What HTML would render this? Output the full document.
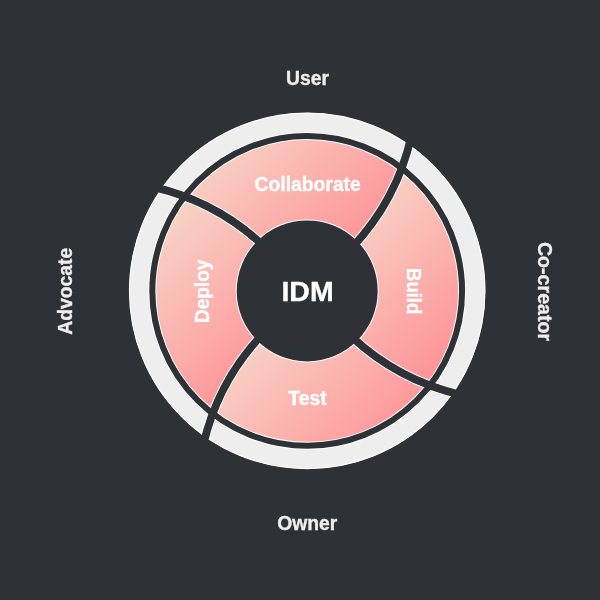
<!DOCTYPE html>
<html><head><meta charset="utf-8"><style>
html,body{margin:0;padding:0;background:#2e3236;}
svg{display:block;will-change:transform}
text{font-family:"Liberation Sans",sans-serif;font-weight:bold;}
</style></head><body>
<svg width="600" height="600" viewBox="0 0 600 600">
<defs><linearGradient id="g0" gradientUnits="userSpaceOnUse" x1="187.42" y1="139.05" x2="345.21" y2="296.84"><stop offset="0" stop-color="#f7dbcc"/><stop offset="1" stop-color="#ff8b91"/></linearGradient><linearGradient id="g1" gradientUnits="userSpaceOnUse" x1="356.58" y1="171.12" x2="514.37" y2="328.91"><stop offset="0" stop-color="#f7dbcc"/><stop offset="1" stop-color="#ff8b91"/></linearGradient><linearGradient id="g2" gradientUnits="userSpaceOnUse" x1="213.87" y1="340.28" x2="371.66" y2="498.07"><stop offset="0" stop-color="#f7dbcc"/><stop offset="1" stop-color="#ff8b91"/></linearGradient><linearGradient id="g3" gradientUnits="userSpaceOnUse" x1="155.35" y1="197.57" x2="313.14" y2="355.36"><stop offset="0" stop-color="#f7dbcc"/><stop offset="1" stop-color="#ff8b91"/></linearGradient></defs>
<rect width="600" height="600" fill="#2e3236"/>
<circle cx="307.2" cy="290.9" r="168.10" fill="none" stroke="#eeeeee" stroke-width="20.40"/>
<path d="M260.06,242.58 L258.45,241.14 L256.82,239.71 L255.17,238.29 L253.52,236.89 L251.85,235.50 L250.16,234.13 L248.46,232.77 L246.75,231.42 L245.03,230.09 L243.29,228.78 L241.54,227.48 L239.77,226.19 L237.99,224.92 L236.20,223.67 L234.40,222.43 L232.58,221.20 L230.75,219.99 L228.91,218.80 L227.06,217.62 L225.19,216.46 L223.31,215.32 L221.42,214.19 L219.51,213.07 L217.59,211.98 L215.67,210.90 L213.72,209.83 L211.77,208.78 L209.80,207.75 L207.83,206.74 L205.84,205.74 L203.84,204.77 L201.82,203.80 L199.80,202.86 L197.76,201.93 L195.72,201.03 L193.66,200.14 L191.59,199.26 L189.51,198.41 L187.42,197.57 L187.42,197.57 L189.94,194.42 L192.55,191.33 L195.24,188.31 L198.01,185.37 L200.86,182.50 L203.79,179.71 L206.78,176.99 L209.85,174.36 L212.99,171.81 L216.19,169.34 L219.46,166.97 L222.79,164.67 L226.18,162.47 L229.63,160.36 L233.13,158.34 L236.68,156.42 L240.29,154.59 L243.94,152.85 L247.64,151.22 L251.38,149.68 L255.16,148.25 L258.97,146.91 L262.82,145.68 L266.71,144.55 L270.62,143.52 L274.55,142.60 L278.51,141.78 L282.49,141.07 L286.49,140.47 L290.50,139.97 L294.52,139.58 L298.56,139.30 L302.59,139.12 L306.64,139.05 L310.68,139.09 L314.72,139.24 L318.75,139.49 L322.78,139.85 L326.80,140.32 L330.80,140.89 L334.78,141.58 L338.75,142.36 L342.69,143.26 L346.61,144.25 L350.50,145.35 L354.36,146.56 L358.18,147.86 L361.97,149.27 L365.72,150.78 L369.43,152.39 L373.10,154.09 L376.72,155.90 L380.29,157.80 L383.80,159.79 L387.27,161.87 L390.67,164.05 L394.02,166.32 L397.31,168.67 L400.53,171.12 L400.53,171.12 L399.69,173.21 L398.84,175.29 L397.96,177.36 L397.07,179.42 L396.17,181.46 L395.24,183.50 L394.30,185.52 L393.33,187.54 L392.36,189.54 L391.36,191.53 L390.35,193.50 L389.32,195.47 L388.27,197.42 L387.20,199.37 L386.12,201.29 L385.03,203.21 L383.91,205.12 L382.78,207.01 L381.64,208.89 L380.48,210.76 L379.30,212.61 L378.11,214.45 L376.90,216.28 L375.67,218.10 L374.43,219.90 L373.18,221.69 L371.91,223.47 L370.62,225.24 L369.32,226.99 L368.01,228.73 L366.68,230.45 L365.33,232.16 L363.97,233.86 L362.60,235.55 L361.21,237.22 L359.81,238.87 L358.39,240.52 L356.96,242.15 L355.52,243.76 L355.52,243.76 L354.24,242.49 L352.94,241.26 L351.60,240.06 L350.23,238.90 L348.83,237.77 L347.40,236.68 L345.95,235.63 L344.46,234.62 L342.95,233.64 L341.41,232.71 L339.85,231.82 L338.27,230.97 L336.66,230.17 L335.03,229.41 L333.39,228.69 L331.72,228.01 L330.04,227.38 L328.34,226.80 L326.63,226.26 L324.90,225.76 L323.16,225.31 L321.41,224.91 L319.64,224.56 L317.87,224.25 L316.10,223.99 L314.31,223.78 L312.52,223.61 L310.73,223.49 L308.93,223.42 L307.14,223.40 L305.34,223.43 L303.54,223.50 L301.75,223.62 L299.96,223.79 L298.18,224.01 L296.40,224.27 L294.63,224.58 L292.87,224.94 L291.12,225.34 L289.38,225.80 L287.65,226.29 L285.94,226.84 L284.24,227.42 L282.56,228.06 L280.90,228.74 L279.25,229.46 L277.62,230.22 L276.02,231.03 L274.44,231.88 L272.88,232.78 L271.34,233.71 L269.83,234.69 L268.35,235.70 L266.89,236.76 L265.47,237.85 L264.07,238.98 L262.70,240.14 L261.37,241.35 L260.06,242.58Z" fill="url(#g0)"/><path d="M355.52,243.76 L356.96,242.15 L358.39,240.52 L359.81,238.87 L361.21,237.22 L362.60,235.55 L363.97,233.86 L365.33,232.16 L366.68,230.45 L368.01,228.73 L369.32,226.99 L370.62,225.24 L371.91,223.47 L373.18,221.69 L374.43,219.90 L375.67,218.10 L376.90,216.28 L378.11,214.45 L379.30,212.61 L380.48,210.76 L381.64,208.89 L382.78,207.01 L383.91,205.12 L385.03,203.21 L386.12,201.29 L387.20,199.37 L388.27,197.42 L389.32,195.47 L390.35,193.50 L391.36,191.53 L392.36,189.54 L393.33,187.54 L394.30,185.52 L395.24,183.50 L396.17,181.46 L397.07,179.42 L397.96,177.36 L398.84,175.29 L399.69,173.21 L400.53,171.12 L400.53,171.12 L403.68,173.64 L406.77,176.25 L409.79,178.94 L412.73,181.71 L415.60,184.56 L418.39,187.49 L421.11,190.48 L423.74,193.55 L426.29,196.69 L428.76,199.89 L431.13,203.16 L433.43,206.49 L435.63,209.88 L437.74,213.33 L439.76,216.83 L441.68,220.38 L443.51,223.99 L445.25,227.64 L446.88,231.34 L448.42,235.08 L449.85,238.86 L451.19,242.67 L452.42,246.52 L453.55,250.41 L454.58,254.32 L455.50,258.25 L456.32,262.21 L457.03,266.19 L457.63,270.19 L458.13,274.20 L458.52,278.22 L458.80,282.26 L458.98,286.29 L459.05,290.34 L459.01,294.38 L458.86,298.42 L458.61,302.45 L458.25,306.48 L457.78,310.50 L457.21,314.50 L456.52,318.48 L455.74,322.45 L454.84,326.39 L453.85,330.31 L452.75,334.20 L451.54,338.06 L450.24,341.88 L448.83,345.67 L447.32,349.42 L445.71,353.13 L444.01,356.80 L442.20,360.42 L440.30,363.99 L438.31,367.50 L436.23,370.97 L434.05,374.37 L431.78,377.72 L429.43,381.01 L426.98,384.23 L426.98,384.23 L424.89,383.39 L422.81,382.54 L420.74,381.66 L418.68,380.77 L416.64,379.87 L414.60,378.94 L412.58,378.00 L410.56,377.03 L408.56,376.06 L406.57,375.06 L404.60,374.05 L402.63,373.02 L400.68,371.97 L398.73,370.90 L396.81,369.82 L394.89,368.73 L392.98,367.61 L391.09,366.48 L389.21,365.34 L387.34,364.18 L385.49,363.00 L383.65,361.81 L381.82,360.60 L380.00,359.37 L378.20,358.13 L376.41,356.88 L374.63,355.61 L372.86,354.32 L371.11,353.02 L369.37,351.71 L367.65,350.38 L365.94,349.03 L364.24,347.67 L362.55,346.30 L360.88,344.91 L359.23,343.51 L357.58,342.09 L355.95,340.66 L354.34,339.22 L354.34,339.22 L355.61,337.94 L356.84,336.64 L358.04,335.30 L359.20,333.93 L360.33,332.53 L361.42,331.10 L362.47,329.65 L363.48,328.16 L364.46,326.65 L365.39,325.11 L366.28,323.55 L367.13,321.97 L367.93,320.36 L368.69,318.73 L369.41,317.09 L370.09,315.42 L370.72,313.74 L371.30,312.04 L371.84,310.33 L372.34,308.60 L372.79,306.86 L373.19,305.11 L373.54,303.34 L373.85,301.57 L374.11,299.80 L374.32,298.01 L374.49,296.22 L374.61,294.43 L374.68,292.63 L374.70,290.84 L374.67,289.04 L374.60,287.24 L374.48,285.45 L374.31,283.66 L374.09,281.88 L373.83,280.10 L373.52,278.33 L373.16,276.57 L372.76,274.82 L372.30,273.08 L371.81,271.35 L371.26,269.64 L370.68,267.94 L370.04,266.26 L369.36,264.60 L368.64,262.95 L367.88,261.32 L367.07,259.72 L366.22,258.14 L365.32,256.58 L364.39,255.04 L363.41,253.53 L362.40,252.05 L361.34,250.59 L360.25,249.17 L359.12,247.77 L357.96,246.40 L356.75,245.07 L355.52,243.76Z" fill="url(#g1)"/><path d="M354.34,339.22 L355.95,340.66 L357.58,342.09 L359.23,343.51 L360.88,344.91 L362.55,346.30 L364.24,347.67 L365.94,349.03 L367.65,350.38 L369.37,351.71 L371.11,353.02 L372.86,354.32 L374.63,355.61 L376.41,356.88 L378.20,358.13 L380.00,359.37 L381.82,360.60 L383.65,361.81 L385.49,363.00 L387.34,364.18 L389.21,365.34 L391.09,366.48 L392.98,367.61 L394.89,368.73 L396.81,369.82 L398.73,370.90 L400.68,371.97 L402.63,373.02 L404.60,374.05 L406.57,375.06 L408.56,376.06 L410.56,377.03 L412.58,378.00 L414.60,378.94 L416.64,379.87 L418.68,380.77 L420.74,381.66 L422.81,382.54 L424.89,383.39 L426.98,384.23 L426.98,384.23 L424.46,387.38 L421.85,390.47 L419.16,393.49 L416.39,396.43 L413.54,399.30 L410.61,402.09 L407.62,404.81 L404.55,407.44 L401.41,409.99 L398.21,412.46 L394.94,414.83 L391.61,417.13 L388.22,419.33 L384.77,421.44 L381.27,423.46 L377.72,425.38 L374.11,427.21 L370.46,428.95 L366.76,430.58 L363.02,432.12 L359.24,433.55 L355.43,434.89 L351.58,436.12 L347.69,437.25 L343.78,438.28 L339.85,439.20 L335.89,440.02 L331.91,440.73 L327.91,441.33 L323.90,441.83 L319.88,442.22 L315.84,442.50 L311.81,442.68 L307.76,442.75 L303.72,442.71 L299.68,442.56 L295.65,442.31 L291.62,441.95 L287.60,441.48 L283.60,440.91 L279.62,440.22 L275.65,439.44 L271.71,438.54 L267.79,437.55 L263.90,436.45 L260.04,435.24 L256.22,433.94 L252.43,432.53 L248.68,431.02 L244.97,429.41 L241.30,427.71 L237.68,425.90 L234.11,424.00 L230.60,422.01 L227.13,419.93 L223.73,417.75 L220.38,415.48 L217.09,413.13 L213.87,410.68 L213.87,410.68 L214.71,408.59 L215.56,406.51 L216.44,404.44 L217.33,402.38 L218.23,400.34 L219.16,398.30 L220.10,396.28 L221.07,394.26 L222.04,392.26 L223.04,390.27 L224.05,388.30 L225.08,386.33 L226.13,384.38 L227.20,382.43 L228.28,380.51 L229.37,378.59 L230.49,376.68 L231.62,374.79 L232.76,372.91 L233.92,371.04 L235.10,369.19 L236.29,367.35 L237.50,365.52 L238.73,363.70 L239.97,361.90 L241.22,360.11 L242.49,358.33 L243.78,356.56 L245.08,354.81 L246.39,353.07 L247.72,351.35 L249.07,349.64 L250.43,347.94 L251.80,346.25 L253.19,344.58 L254.59,342.93 L256.01,341.28 L257.44,339.65 L258.88,338.04 L258.88,338.04 L260.16,339.31 L261.46,340.54 L262.80,341.74 L264.17,342.90 L265.57,344.03 L267.00,345.12 L268.45,346.17 L269.94,347.18 L271.45,348.16 L272.99,349.09 L274.55,349.98 L276.13,350.83 L277.74,351.63 L279.37,352.39 L281.01,353.11 L282.68,353.79 L284.36,354.42 L286.06,355.00 L287.77,355.54 L289.50,356.04 L291.24,356.49 L292.99,356.89 L294.76,357.24 L296.53,357.55 L298.30,357.81 L300.09,358.02 L301.88,358.19 L303.67,358.31 L305.47,358.38 L307.26,358.40 L309.06,358.37 L310.86,358.30 L312.65,358.18 L314.44,358.01 L316.22,357.79 L318.00,357.53 L319.77,357.22 L321.53,356.86 L323.28,356.46 L325.02,356.00 L326.75,355.51 L328.46,354.96 L330.16,354.38 L331.84,353.74 L333.50,353.06 L335.15,352.34 L336.78,351.58 L338.38,350.77 L339.96,349.92 L341.52,349.02 L343.06,348.09 L344.57,347.11 L346.05,346.10 L347.51,345.04 L348.93,343.95 L350.33,342.82 L351.70,341.66 L353.03,340.45 L354.34,339.22Z" fill="url(#g2)"/><path d="M258.88,338.04 L257.44,339.65 L256.01,341.28 L254.59,342.93 L253.19,344.58 L251.80,346.25 L250.43,347.94 L249.07,349.64 L247.72,351.35 L246.39,353.07 L245.08,354.81 L243.78,356.56 L242.49,358.33 L241.22,360.11 L239.97,361.90 L238.73,363.70 L237.50,365.52 L236.29,367.35 L235.10,369.19 L233.92,371.04 L232.76,372.91 L231.62,374.79 L230.49,376.68 L229.37,378.59 L228.28,380.51 L227.20,382.43 L226.13,384.38 L225.08,386.33 L224.05,388.30 L223.04,390.27 L222.04,392.26 L221.07,394.26 L220.10,396.28 L219.16,398.30 L218.23,400.34 L217.33,402.38 L216.44,404.44 L215.56,406.51 L214.71,408.59 L213.87,410.68 L213.87,410.68 L210.72,408.16 L207.63,405.55 L204.61,402.86 L201.67,400.09 L198.80,397.24 L196.01,394.31 L193.29,391.32 L190.66,388.25 L188.11,385.11 L185.64,381.91 L183.27,378.64 L180.97,375.31 L178.77,371.92 L176.66,368.47 L174.64,364.97 L172.72,361.42 L170.89,357.81 L169.15,354.16 L167.52,350.46 L165.98,346.72 L164.55,342.94 L163.21,339.13 L161.98,335.28 L160.85,331.39 L159.82,327.48 L158.90,323.55 L158.08,319.59 L157.37,315.61 L156.77,311.61 L156.27,307.60 L155.88,303.58 L155.60,299.54 L155.42,295.51 L155.35,291.46 L155.39,287.42 L155.54,283.38 L155.79,279.35 L156.15,275.32 L156.62,271.30 L157.19,267.30 L157.88,263.32 L158.66,259.35 L159.56,255.41 L160.55,251.49 L161.65,247.60 L162.86,243.74 L164.16,239.92 L165.57,236.13 L167.08,232.38 L168.69,228.67 L170.39,225.00 L172.20,221.38 L174.10,217.81 L176.09,214.30 L178.17,210.83 L180.35,207.43 L182.62,204.08 L184.97,200.79 L187.42,197.57 L187.42,197.57 L189.51,198.41 L191.59,199.26 L193.66,200.14 L195.72,201.03 L197.76,201.93 L199.80,202.86 L201.82,203.80 L203.84,204.77 L205.84,205.74 L207.83,206.74 L209.80,207.75 L211.77,208.78 L213.72,209.83 L215.67,210.90 L217.59,211.98 L219.51,213.07 L221.42,214.19 L223.31,215.32 L225.19,216.46 L227.06,217.62 L228.91,218.80 L230.75,219.99 L232.58,221.20 L234.40,222.43 L236.20,223.67 L237.99,224.92 L239.77,226.19 L241.54,227.48 L243.29,228.78 L245.03,230.09 L246.75,231.42 L248.46,232.77 L250.16,234.13 L251.85,235.50 L253.52,236.89 L255.17,238.29 L256.82,239.71 L258.45,241.14 L260.06,242.58 L260.06,242.58 L258.79,243.86 L257.56,245.16 L256.36,246.50 L255.20,247.87 L254.07,249.27 L252.98,250.70 L251.93,252.15 L250.92,253.64 L249.94,255.15 L249.01,256.69 L248.12,258.25 L247.27,259.83 L246.47,261.44 L245.71,263.07 L244.99,264.71 L244.31,266.38 L243.68,268.06 L243.10,269.76 L242.56,271.47 L242.06,273.20 L241.61,274.94 L241.21,276.69 L240.86,278.46 L240.55,280.23 L240.29,282.00 L240.08,283.79 L239.91,285.58 L239.79,287.37 L239.72,289.17 L239.70,290.96 L239.73,292.76 L239.80,294.56 L239.92,296.35 L240.09,298.14 L240.31,299.92 L240.57,301.70 L240.88,303.47 L241.24,305.23 L241.64,306.98 L242.10,308.72 L242.59,310.45 L243.14,312.16 L243.72,313.86 L244.36,315.54 L245.04,317.20 L245.76,318.85 L246.52,320.48 L247.33,322.08 L248.18,323.66 L249.08,325.22 L250.01,326.76 L250.99,328.27 L252.00,329.75 L253.06,331.21 L254.15,332.63 L255.28,334.03 L256.44,335.40 L257.65,336.73 L258.88,338.04Z" fill="url(#g3)"/>
<defs><clipPath id="hc"><circle cx="307.2" cy="290.9" r="178.30"/></clipPath></defs><g clip-path="url(#hc)" opacity="1.0"><circle cx="307.2" cy="290.9" r="71.50" fill="#fff"/><circle cx="307.2" cy="290.9" r="154.88" fill="none" stroke="#fff" stroke-width="8.05"/><circle cx="307.2" cy="290.9" r="177.80" fill="none" stroke="#fff" stroke-width="1.00"/><g fill="none" stroke="#fff" stroke-width="9.80"><path d="M152.70,186.85 A239.73,239.73 0 0 1 263.74,245.97" /><path d="M411.25,136.40 A239.73,239.73 0 0 1 352.13,247.44" /><path d="M461.70,394.95 A239.73,239.73 0 0 1 350.66,335.83" /><path d="M203.15,445.40 A239.73,239.73 0 0 1 262.27,334.36" /></g></g>
<circle cx="307.2" cy="290.9" r="154.88" fill="none" stroke="#2e3236" stroke-width="6.05"/>
<circle cx="307.2" cy="290.9" r="70.5" fill="#2e3236"/>
<g fill="none" stroke="#2e3236" stroke-width="7.8"><path d="M152.70,186.85 A239.73,239.73 0 0 1 263.74,245.97" /><path d="M411.25,136.40 A239.73,239.73 0 0 1 352.13,247.44" /><path d="M461.70,394.95 A239.73,239.73 0 0 1 350.66,335.83" /><path d="M203.15,445.40 A239.73,239.73 0 0 1 262.27,334.36" /></g>
<g text-anchor="middle"><text x="307.5" y="85" font-size="20" fill="#eeeeee" stroke="#eeeeee" stroke-width="0.35" textLength="42.9" lengthAdjust="spacingAndGlyphs">User</text><text x="307.2" y="529.6" font-size="20" fill="#eeeeee" stroke="#eeeeee" stroke-width="0.35" textLength="60.1" lengthAdjust="spacingAndGlyphs">Owner</text><text transform="translate(72.2,291.2) rotate(-90)" font-size="20" fill="#eeeeee" stroke="#eeeeee" stroke-width="0.35" textLength="86.9" lengthAdjust="spacingAndGlyphs">Advocate</text><text transform="translate(538,291.5) rotate(90)" font-size="20" fill="#eeeeee" stroke="#eeeeee" stroke-width="0.35" textLength="99.2" lengthAdjust="spacingAndGlyphs">Co-creator</text><text x="307.7" y="191.2" font-size="20" fill="#ffffff" stroke="#ffffff" stroke-width="0.35" textLength="106.2" lengthAdjust="spacingAndGlyphs">Collaborate</text><text x="307.5" y="404.6" font-size="20" fill="#ffffff" stroke="#ffffff" stroke-width="0.35" textLength="38.3" lengthAdjust="spacingAndGlyphs">Test</text><text transform="translate(208.5,291.3) rotate(-90)" font-size="20" fill="#ffffff" stroke="#ffffff" stroke-width="0.35" textLength="63.2" lengthAdjust="spacingAndGlyphs">Deploy</text><text transform="translate(406.9,291.2) rotate(90)" font-size="20" fill="#ffffff" stroke="#ffffff" stroke-width="0.35" textLength="46.2" lengthAdjust="spacingAndGlyphs">Build</text><text x="307.5" y="300.6" font-size="28.5" fill="#ffffff" stroke="#ffffff" stroke-width="0.35">IDM</text></g>
</svg>
</body></html>
